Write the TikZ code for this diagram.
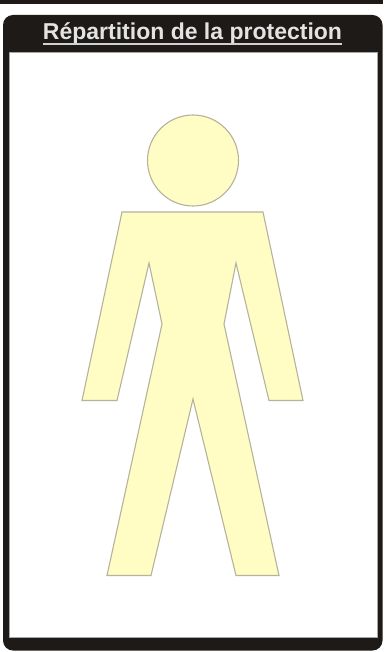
\documentclass[tikz,border=0pt]{standalone}
\usepackage{fontspec}
\setmainfont{Liberation Sans}
\definecolor{panel}{HTML}{1E1A17}
\definecolor{skin}{HTML}{FFFDC4}
\definecolor{edge}{HTML}{B5B39A}
\tikzset{x=1pt,y=-1pt,
 figure/.style={fill=skin,draw=edge,line width=1.1pt,line join=miter}}
\begin{document}
\begin{tikzpicture}
\useasboundingbox (0,0) rectangle (383,652);
\fill[white] (0,0) rectangle (383,652);
\fill[panel] (0,0) rectangle (383,4.5);
\fill[panel,rounded corners=10pt] (3,15) rectangle (382.5,650.5);
\draw[fill=white,draw=gray!70,line width=0.5pt] (9,52.5) rectangle (377,637);
\node[text=white!88!panel,font=\bfseries\fontsize{23}{26}\selectfont,inner sep=0pt,anchor=center] (title) at (192.5,33.5)
  {Répartition de la protection};
\fill[white!80!panel] (43,42.8) rectangle (342,44.6);
\node[figure,circle,minimum size=91pt,inner sep=0pt] (head) at (193,160.5) {};
\draw[figure] (122,212) -- (263,212) -- (303,400.5) -- (269,400.5) -- (236,263) -- (224,324) -- (279,575.5) -- (236,575.5) -- (193,399) -- (151,575.5) -- (107,575.5) -- (162,324) -- (149,263) -- (117,400.5) -- (82,400.5) -- cycle;
\end{tikzpicture}
\end{document}
